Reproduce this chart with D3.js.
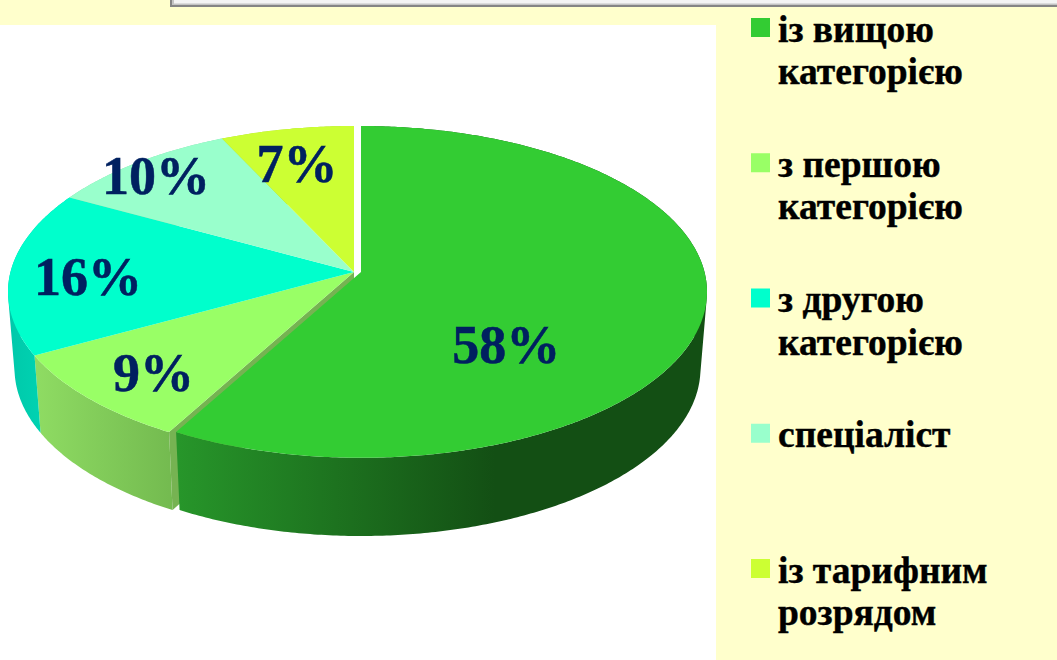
<!DOCTYPE html>
<html>
<head>
<meta charset="utf-8">
<script src="https://cdn.jsdelivr.net/npm/d3@7"></script>
<style>
html, body { margin: 0; padding: 0; background: #ffffcc; }
svg { display: block; }
text { font-family: "Liberation Serif", serif; font-weight: bold; }
</style>
</head>
<body>
<div id="chart"></div>
<script>
var categories = ['із вищою категорією', 'з першою категорією', 'з другою категорією', 'спеціаліст', 'із тарифним розрядом'];
var legendLines = [['із вищою', 'категорією'], ['з першою', 'категорією'], ['з другою', 'категорією'], ['спеціаліст'], ['із тарифним', 'розрядом']];
var values = [58, 9, 16, 10, 7];
var sliceColors = ['#33cc33', '#99ff66', '#00ffcc', '#99ffcc', '#ccff33'];

var width = 1057, height = 660;

// tilted disc: camera perspective, so the apex is not at the middle of the ellipse
var persp = 0.12;
var top_ = { rx: 343.5, ry: 163.5, cy: 272 };
var bottom_ = { rx: 337, ry: 165, cy: 348.5 };
var restX = 354, explodeX = 7; // first slice is pulled out to the right

function project(disc, angle, r, cx) {
    var u = Math.sin(angle) * r, v = Math.cos(angle) * r;
    var w = 1 + persp * v;
    return [cx + disc.rx * u / w, disc.cy - disc.ry * v / w];
}

function rim(disc, a0, a1, cx) {
    var n = Math.ceil((a1 - a0) / 0.01);
    return d3.range(n + 1).map(function (i) {
        return project(disc, a0 + (a1 - a0) * i / n, 1, cx);
    });
}

var svg = d3.select('#chart').append('svg').attr('width', width).attr('height', height);
var defs = svg.append('defs');
var line = d3.line();

// background panels
svg.append('rect').attr('width', width).attr('height', height).attr('fill', '#ffffcc');
svg.append('rect').attr('x', 0).attr('y', 25).attr('width', 716).attr('height', height - 25).attr('fill', '#ffffff');
svg.append('rect').attr('x', 170).attr('y', 0).attr('width', width).attr('height', 7).attr('fill', '#858585');
svg.append('rect').attr('x', 172).attr('y', 0).attr('width', width).attr('height', 5).attr('fill', '#c4c4c4');
svg.append('rect').attr('x', 174).attr('y', 0).attr('width', width).attr('height', 3.5).attr('fill', '#f4f4f4');

var color = d3.scaleOrdinal().domain(categories).range(sliceColors);
var arcs = d3.pie().sort(null)(values);
arcs.forEach(function (d, i) { d.cx = restX + (i === 0 ? explodeX : 0); d.cat = categories[i]; });

// wall gradients, left to right
var wallStops = [['#27962a', '#134f14'], ['#8fdc63', '#74bb50'], ['#00c8aa', '#00dcb8'], ['#80d8a8', '#80d8a8'], ['#a8d828', '#a8d828']];
arcs.forEach(function (d, i) {
    var pts = rim(top_, d.startAngle, d.endAngle, d.cx);
    var ext = d3.extent(pts, function (p) { return p[0]; });
    var g = defs.append('linearGradient').attr('id', 'wall' + i)
        .attr('gradientUnits', 'userSpaceOnUse')
        .attr('x1', ext[0]).attr('x2', ext[1]).attr('y1', 0).attr('y2', 0);
    g.append('stop').attr('offset', 0).attr('stop-color', wallStops[i][0]);
    g.append('stop').attr('offset', i === 0 ? 0.6 : 1).attr('stop-color', wallStops[i][1]);
});

// wall as many small quads, all wound one way so the side silhouette stays filled
function wallPath(d) {
    var t = rim(top_, d.startAngle, d.endAngle, d.cx);
    var b = rim(bottom_, d.startAngle, d.endAngle, d.cx);
    return d3.range(t.length - 1).map(function (i) {
        var quad = [t[i], t[i + 1], b[i + 1], b[i]];
        if (d3.polygonArea(quad) < 0) quad.reverse();
        return line(quad) + 'Z';
    }).join('');
}

// outer walls first, the top faces cover what faces away
svg.append('g').selectAll('path').data(arcs.slice(1)).enter().append('path')
    .attr('d', wallPath)
    .attr('fill', function (d) { return 'url(#wall' + d.index + ')'; });

// cut face of the second slice, shows in the gap left by the pulled slice
var cut = arcs[1];
svg.append('path')
    .attr('d', line([
        [cut.cx, top_.cy],
        project(top_, cut.startAngle, 1, cut.cx),
        project(bottom_, cut.startAngle, 1, cut.cx),
        [cut.cx, bottom_.cy]
    ]) + 'Z')
    .attr('fill', '#76b352');

// pulled slice wall goes over the cut face
svg.append('path').attr('d', wallPath(arcs[0])).attr('fill', 'url(#wall0)');

// top faces, second to last then the pulled slice
svg.append('g').selectAll('path').data(arcs.slice(1).concat(arcs[0])).enter().append('path')
    .attr('d', function (d) {
        return line([[d.cx, top_.cy]].concat(rim(top_, d.startAngle, d.endAngle, d.cx))) + 'Z';
    })
    .attr('fill', function (d) { return color(d.cat); });

// percent labels, moved from the mid-slice point as in the original
var labelNudge = [[-58, 49], [-47, 29], [-60, 6], [-64, -27], [-15, -18]];
svg.append('g').selectAll('text').data(arcs).enter().append('text')
    .attr('transform', function (d, i) {
        var p = project(top_, (d.startAngle + d.endAngle) / 2, 0.6, d.cx);
        return 'translate(' + (p[0] + labelNudge[i][0]) + ',' + (p[1] + labelNudge[i][1] + 17) + ')';
    })
    .attr('text-anchor', 'middle')
    .attr('font-size', 54)
    .attr('fill', '#002060')
    .attr('stroke', '#002060')
    .attr('stroke-width', 0.5)
    .text(function (d) { return d.value + '%'; });

// legend
var legendY = d3.scalePoint().domain(categories).range([18, 559]);
var legend = svg.append('g').selectAll('g').data(categories).enter().append('g')
    .attr('transform', function (d) { return 'translate(751,' + legendY(d) + ')'; });
legend.append('rect').attr('width', 19).attr('height', 19)
    .attr('fill', function (d) { return color(d); });
legend.each(function (d, i) {
    d3.select(this).selectAll('text').data(legendLines[i]).enter().append('text')
        .attr('x', 27)
        .attr('y', function (t, j) { return 23.5 + j * 42.5; })
        .attr('font-size', 37.5)
        .attr('fill', '#000000')
        .attr('stroke', '#000000')
        .attr('stroke-width', 0.4)
        .text(function (t) { return t; });
});
</script>
</body>
</html>
